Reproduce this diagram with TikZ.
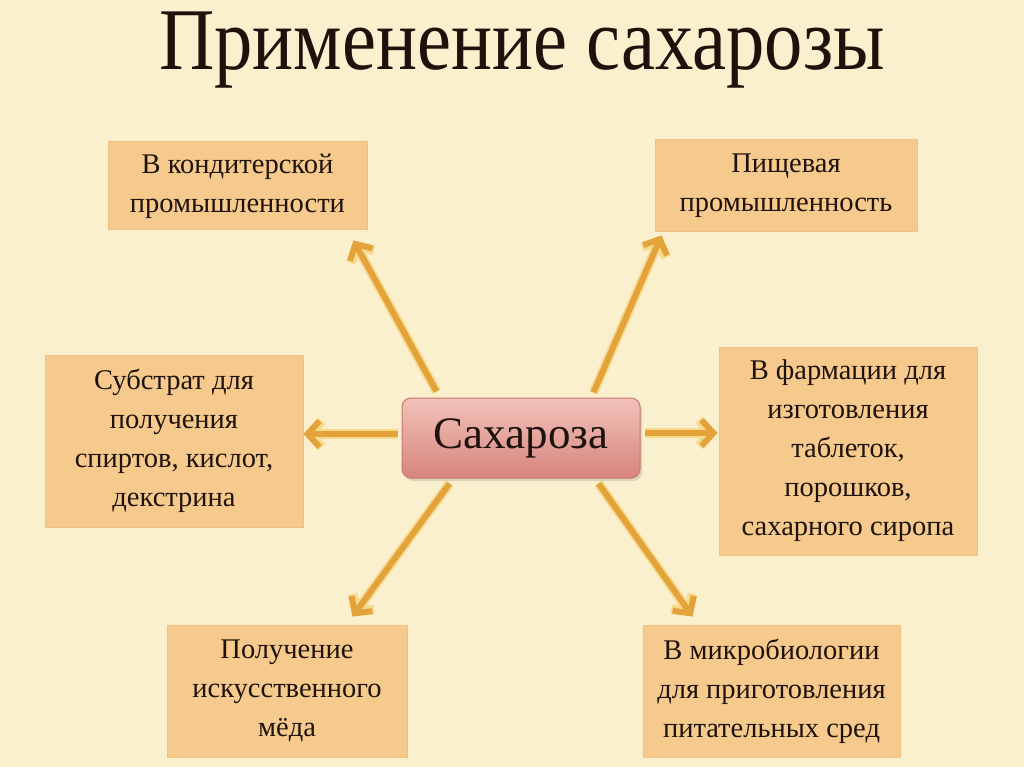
\documentclass[tikz,border=0pt]{standalone}
\usepackage{fontspec}
\setmainfont{Liberation Serif}
\usetikzlibrary{arrows.meta,shadows}
\pgfdeclarelayer{bg}
\pgfsetlayers{bg,main}
\definecolor{bgcol}{HTML}{FBF0CD}
\definecolor{boxcol}{HTML}{F6C98D}
\definecolor{boxedge}{HTML}{F2C182}
\definecolor{arrcol}{HTML}{E3A33A}
\definecolor{halo}{HTML}{F6DB8E}
\definecolor{pinktop}{HTML}{F2C2BA}
\definecolor{pinkbot}{HTML}{D6857C}
\definecolor{pinkedge}{HTML}{C9776F}
\definecolor{txt}{HTML}{1E120C}
\tikzset{
  infobox/.style={fill=boxcol, draw=boxedge, line width=1pt, align=center,
    text=txt, inner sep=0pt, font=\fontsize{28.5}{39}\selectfont},
  centerbox/.style={rounded corners=9pt, top color=pinktop, bottom color=pinkbot,
    draw=pinkedge, line width=1pt, text=txt, inner sep=0pt,
    font=\fontsize{45}{50}\selectfont,
    drop shadow={shadow xshift=2pt, shadow yshift=-3pt, opacity=0.25}},
  arr/.style={draw=arrcol, line width=6pt,
    -{Straight Barb[length=12pt,width=26pt,line width=6pt]},
    preaction={draw=halo, line width=9.5pt, -{Straight Barb[length=12pt,width=26pt,line width=9.5pt]}}},
}
\begin{document}
\begin{tikzpicture}[x=1pt,y=-1pt]
\begin{pgfonlayer}{bg}
\fill[bgcol] (0,0) rectangle (1024,767);
\end{pgfonlayer}
\useasboundingbox (0,0) rectangle (1024,767);

\node[anchor=base, text=txt, font=\fontsize{88}{96}\selectfont] (title) at (522,70)
  {\scalebox{0.87}[1]{Применение сахарозы}};

\node[centerbox, minimum width=238pt, minimum height=80pt] (c) at (521,438) {Сахароза};

\node[infobox, minimum width=259pt, minimum height=88pt] (tl) at (237.5,186)
  {В кондитерской\\промышленности};
\node[infobox, minimum width=262pt, minimum height=92pt] (tr) at (786,186)
  {Пищевая\\промышленность};
\node[infobox, minimum width=258pt, minimum height=172pt] (ml) at (174,441)
  {Субстрат для\\получения\\спиртов, кислот,\\декстрина};
\node[infobox, minimum width=258pt, minimum height=208pt] (mr) at (848,451)
  {\raisebox{-6pt}{\parbox{258pt}{\centering В фармации для\\изготовления\\таблеток,\\порошков,\\сахарного сиропа}}};
\node[infobox, minimum width=240pt, minimum height=132pt] (bl) at (287,691)
  {Получение\\искусственного\\мёда};
\node[infobox, minimum width=257pt, minimum height=132pt] (br) at (771.5,691)
  {В микробиологии\\для приготовления\\питательных сред};

\begin{pgfonlayer}{bg}
\draw[arr] ([xshift=35pt,yshift=6pt]c.north west) -- ([xshift=-14pt,yshift=-10pt]tl.south east);
\draw[arr] ([xshift=-47pt,yshift=5pt]c.north east) -- ([xshift=7pt,yshift=-3pt]tr.south west);
\draw[arr] ([xshift=-4pt,yshift=4pt]c.west) -- ([yshift=7pt]ml.east);
\draw[arr] ([xshift=4pt,yshift=5pt]c.east) -- ([xshift=-1pt,yshift=18pt]mr.west);
\draw[arr] ([xshift=48pt,yshift=-5pt]c.south west) -- ([xshift=-55pt,yshift=8pt]bl.north east);
\draw[arr] ([xshift=-42pt,yshift=-5pt]c.south east) -- ([xshift=50pt,yshift=8pt]br.north west);
\end{pgfonlayer}
\end{tikzpicture}
\end{document}
